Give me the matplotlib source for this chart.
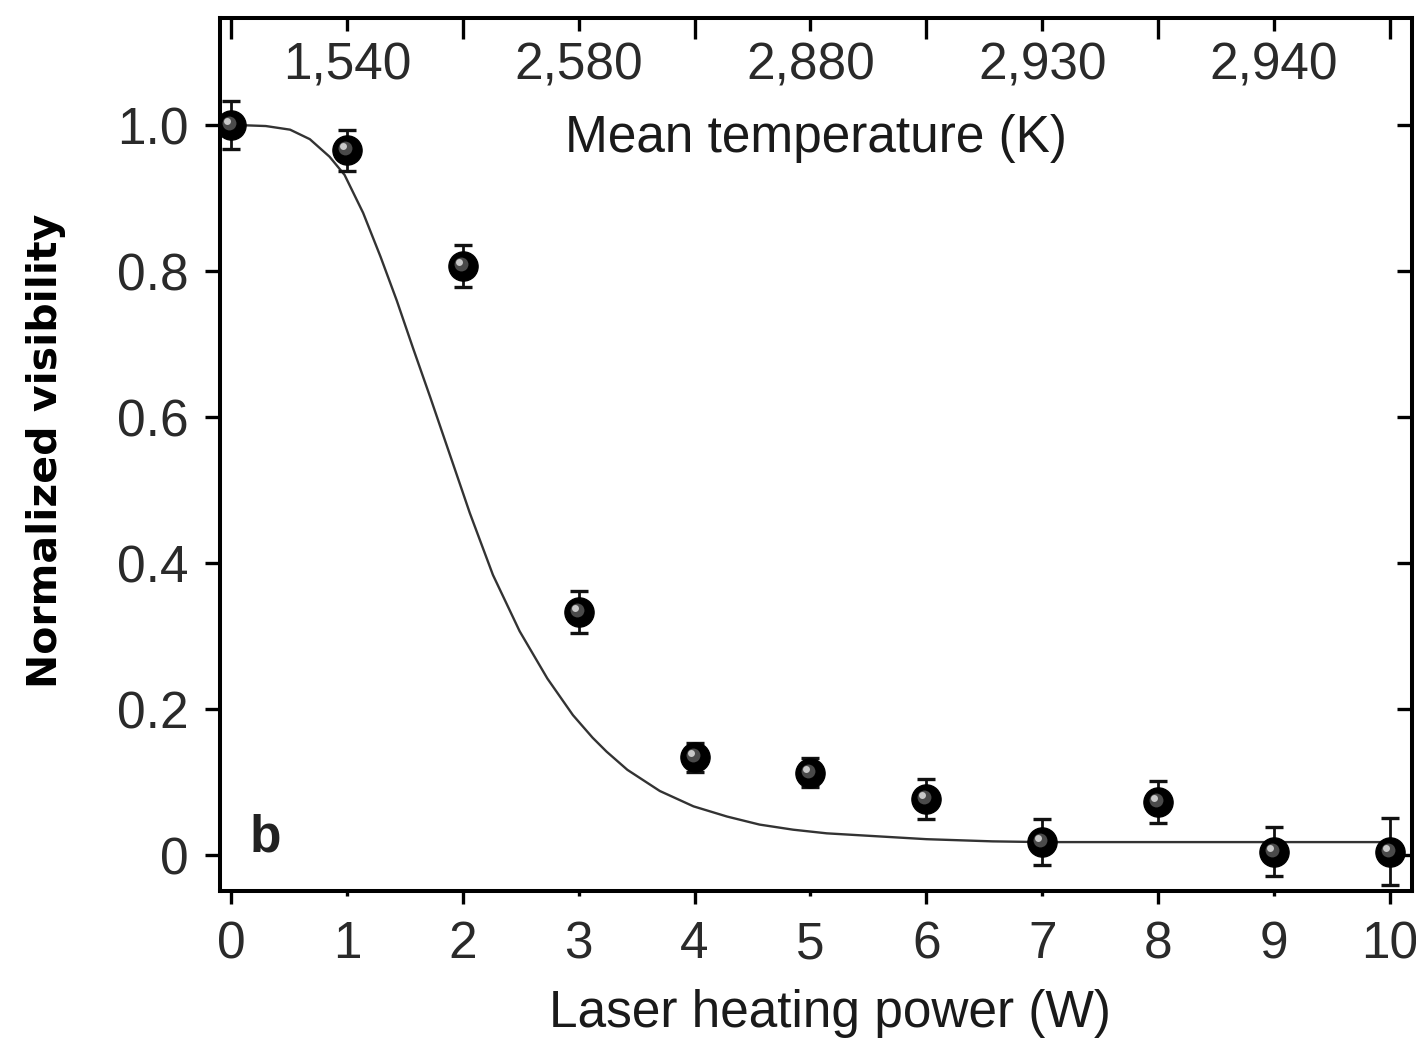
import matplotlib
matplotlib.use("Agg")
import matplotlib.pyplot as plt
from matplotlib import font_manager
from matplotlib.transforms import ScaledTranslation

# ---- data ----
power = [0, 1, 2, 3, 4, 5, 6, 7, 8, 9, 10]
visibility = [1.0, 0.966, 0.807, 0.333, 0.134, 0.113, 0.077, 0.018, 0.073, 0.005, 0.005]
vis_err = [0.033, 0.028, 0.029, 0.029, 0.02, 0.02, 0.028, 0.031, 0.029, 0.033, 0.046]

fit_x = [0, 0.12, 0.3, 0.51, 0.68, 0.85, 0.98, 1.14, 1.29, 1.43, 1.57, 1.72, 1.86,
         2.0, 2.06, 2.26, 2.49, 2.73, 2.95, 3.12, 3.24, 3.42, 3.70, 3.99, 4.28,
         4.56, 4.85, 5.14, 5.57, 6.0, 6.57, 7.0, 8.0, 9.0, 10.0]
fit_y = [1.0, 1.0, 0.999, 0.994, 0.981, 0.957, 0.932, 0.880, 0.820, 0.760, 0.695, 0.627, 0.562,
         0.497, 0.469, 0.384, 0.307, 0.242, 0.192, 0.161, 0.142, 0.117, 0.088, 0.067, 0.053,
         0.042, 0.035, 0.030, 0.026, 0.022, 0.019, 0.018, 0.018, 0.018, 0.018]

x_ticks = [0, 1, 2, 3, 4, 5, 6, 7, 8, 9, 10]
y_ticks = [0, 0.2, 0.4, 0.6, 0.8, 1.0]
y_ticklabels = ["0", "0.2", "0.4", "0.6", "0.8", "1.0"]
top_ticks_major = [0, 2, 4, 6, 8, 10]
top_ticks_labeled = [1, 3, 5, 7, 9]
top_ticklabels = ["1,540", "2,580", "2,880", "2,930", "2,940"]

xlabel = "Laser heating power (W)"
ylabel = "Normalized visibility"
toplabel = "Mean temperature (K)"
panel = "b"

# ---- fonts ----
names = {f.name for f in font_manager.fontManager.ttflist}
base_font = "Liberation Sans" if "Liberation Sans" in names else "DejaVu Sans"
ylab_font = dict(family="DejaVu Sans", fontweight="bold", fontsize=29.5)

plt.rcParams["font.family"] = [base_font, "DejaVu Sans"]

TXT = "#1a1a1a"
TICK = "#2a2a2a"
FS = 37

fig = plt.figure(figsize=(14.16, 10.39), dpi=100)
ax = fig.add_axes([220 / 1416, 148 / 1039, 1192 / 1416, 873 / 1039])

ax.set_xlim(-0.095, 10.19)
ax.set_ylim(-0.049, 1.147)

# fit curve
ax.plot(fit_x, fit_y, color="#333333", lw=1.7, zorder=2, solid_capstyle="round",
        solid_joinstyle="round")

# data with error bars
ax.errorbar(power, visibility, yerr=vis_err, fmt="o", color="black", ms=21,
            mec="black", mfc="black", ecolor="#111111", elinewidth=2.0,
            capsize=6.5, capthick=2.4, zorder=3)
# sphere shading
off1 = ScaledTranslation(-2 / 100, 2 / 100, fig.dpi_scale_trans)
off2 = ScaledTranslation(-4 / 100, 4 / 100, fig.dpi_scale_trans)
ax.plot(power, visibility, "o", ms=10, color="#4a4a4a", mec="none",
        transform=ax.transData + off1, zorder=4)
ax.plot(power, visibility, "o", ms=5, color="#c8c8c8", mec="none",
        transform=ax.transData + off2, zorder=5)

# spines
for s in ax.spines.values():
    s.set_linewidth(2.9)
    s.set_color("black")

# bottom / left ticks
ax.set_xticks(top_ticks_major)
ax.set_xticklabels([str(v) for v in top_ticks_major])
ax.set_xticks(top_ticks_labeled, minor=True)
ax.set_xticklabels([str(v) for v in top_ticks_labeled], minor=True)
ax.tick_params(axis="x", which="major", direction="out", length=9.4, width=2.4,
               pad=11.5, labelsize=FS, labelcolor=TICK)
ax.tick_params(axis="x", which="minor", direction="out", length=3.6, width=2.4,
               pad=17.3, labelsize=FS, labelcolor=TICK)
ax.set_yticks(y_ticks)
ax.set_yticklabels(y_ticklabels)
ax.tick_params(axis="y", direction="out", length=10.8, width=2.4, pad=12,
               labelsize=FS, labelcolor=TICK)

# top axis (temperature)
axt = ax.twiny()
axt.set_xlim(ax.get_xlim())
axt.set_xticks(top_ticks_major)
axt.set_xticklabels([])
axt.set_xticks(top_ticks_labeled, minor=True)
axt.set_xticklabels(top_ticklabels, minor=True)
axt.tick_params(axis="x", which="major", direction="in", length=15, width=2.4)
axt.tick_params(axis="x", which="minor", direction="in", length=9.5, width=2.4,
                pad=-52, labelsize=FS, labelcolor=TICK)
for s in axt.spines.values():
    s.set_visible(False)

# right axis ticks
axr = ax.twinx()
axr.set_ylim(ax.get_ylim())
axr.set_yticks(y_ticks)
axr.set_yticklabels([])
axr.tick_params(axis="y", direction="in", length=10.8, width=2.4)
for s in axr.spines.values():
    s.set_visible(False)

# labels
ax.set_xlabel(xlabel, fontsize=FS, color=TXT)
ax.xaxis.set_label_coords(0.512, -0.112)
fig.text(46 / 1416, 1 - 451 / 1039, ylabel, rotation=90, ha="center", va="center",
         color="black", **ylab_font)
ax.text(0.5, 0.846, toplabel, transform=ax.transAxes, ha="center", va="baseline",
        fontsize=FS, color=TXT)
ax.text(0.025, 0.045, panel, transform=ax.transAxes, ha="left", va="baseline",
        fontsize=FS, fontweight="bold", color="#222222")

fig.savefig("out.png", dpi=100, facecolor="white")
